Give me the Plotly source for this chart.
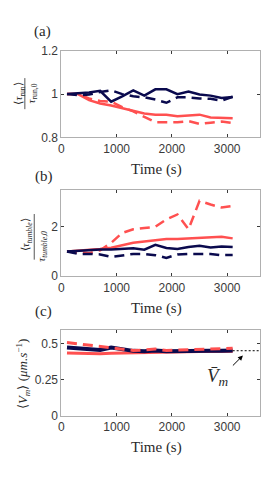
import plotly.graph_objects as go

# ---------------- data ----------------
time_s = [100, 300, 500, 700, 900, 1100, 1300, 1500, 1700, 1900, 2100, 2300, 2500, 2700, 2900, 3100]

run_navy_solid = [1.0, 1.003, 1.008, 1.015, 0.965, 0.99, 1.017, 0.993, 1.022, 1.022, 1.0, 1.012, 0.998, 0.993, 0.982, 0.987]
run_navy_dash = [1.0, 0.995, 0.998, 1.01, 1.018, 1.0, 0.99, 0.985, 0.975, 0.96, 0.985, 0.985, 0.98, 0.978, 0.97, 0.988]
run_red_solid = [1.0, 1.0, 0.972, 0.957, 0.947, 0.935, 0.922, 0.91, 0.905, 0.905, 0.898, 0.9, 0.905, 0.892, 0.89, 0.888]
run_red_dash = [1.0, 1.0, 0.98, 0.968, 0.965, 0.94, 0.92, 0.895, 0.87, 0.87, 0.87, 0.875, 0.862, 0.868, 0.873, 0.866]

tum_navy_solid = [1.0, 1.03, 1.06, 1.08, 1.08, 1.1, 1.13, 1.07, 1.27, 1.14, 1.1, 1.18, 1.23, 1.16, 1.2, 1.18]
tum_navy_dash = [1.0, 0.9, 0.9, 0.88, 0.78, 0.85, 0.9, 0.9, 0.85, 0.74, 0.88, 0.9, 0.9, 0.9, 0.85, 0.86]
tum_red_solid = [1.0, 1.03, 1.05, 1.1, 1.15, 1.25, 1.35, 1.4, 1.46, 1.5, 1.5, 1.52, 1.53, 1.57, 1.6, 1.53]
tum_red_dash = [1.0, 0.95, 0.93, 1.05, 1.35, 1.75, 1.9, 1.95, 2.0, 2.3, 2.5, 1.9, 3.05, 2.9, 2.78, 2.84]

vm_navy_solid = [0.475, 0.47, 0.462, 0.458, 0.475, 0.462, 0.452, 0.45, 0.455, 0.45, 0.452, 0.452, 0.455, 0.453, 0.453, 0.455]
vm_red_dash = [0.51, 0.5, 0.49, 0.48, 0.47, 0.462, 0.455, 0.458, 0.465, 0.455, 0.458, 0.46, 0.46, 0.462, 0.465, 0.47]
vm_red_solid = [0.437, 0.435, 0.43, 0.432, 0.435, 0.437, 0.44, 0.442, 0.443, 0.445, 0.445, 0.447, 0.448, 0.448, 0.45, 0.45]

vm_mean = 0.453
vm_mean_x = [3100, 3600]

x_ticks = [0, 1000, 2000, 3000]
y_ticks_a = [0.8, 1, 1.2]
y_ticks_b = [0, 2]
y_ticks_c = [0, 0.25, 0.5]

# ---------------- style ----------------
NAVY = "#0a0a4e"
RED = "#ff5050"
DASH = "10px,6px"
W = 279
H = 480

def px_y(top, bottom):
    return [1 - bottom / H, 1 - top / H]

xdom = [51 / W, 252 / W]
dom_a = px_y(37, 126)
dom_b = px_y(180, 269)
dom_c = px_y(324, 413)

fig = go.Figure()

def add(x, y, color, dash, xa, ya, width=2.5):
    fig.add_trace(go.Scatter(x=x, y=y, mode="lines", xaxis=xa, yaxis=ya,
                             line=dict(color=color, width=width, dash=dash),
                             showlegend=False, hoverinfo="skip"))

# panel a
add(time_s, run_red_dash, RED, DASH, "x", "y")
add(time_s, run_red_solid, RED, "solid", "x", "y")
add(time_s, run_navy_dash, NAVY, DASH, "x", "y")
add(time_s, run_navy_solid, NAVY, "solid", "x", "y")
# panel b
add(time_s, tum_red_dash, RED, DASH, "x2", "y2")
add(time_s, tum_red_solid, RED, "solid", "x2", "y2")
add(time_s, tum_navy_dash, NAVY, DASH, "x2", "y2")
add(time_s, tum_navy_solid, NAVY, "solid", "x2", "y2")
# panel c
add(time_s, vm_red_solid, RED, "solid", "x3", "y3", 3)
add(time_s, vm_navy_solid, NAVY, "solid", "x3", "y3", 4)
add(time_s, vm_red_dash, RED, DASH, "x3", "y3", 3)
fig.add_trace(go.Scatter(x=vm_mean_x, y=[vm_mean, vm_mean], mode="lines", xaxis="x3", yaxis="y3",
                         line=dict(color="black", width=1, dash="2px,2px"),
                         showlegend=False, hoverinfo="skip"))

tickfont = dict(family="Liberation Sans", size=12, color="#3a3a3a")
common_x = dict(range=[0, 3600], tickvals=x_ticks, ticks="inside", ticklen=3,
                tickcolor="#3a3a3a", showline=True, linecolor="#b0b0b0", linewidth=1,
                mirror="ticks", showgrid=False, zeroline=False, tickfont=tickfont,
                domain=xdom)
common_y = dict(ticks="inside", ticklen=3, tickcolor="#3a3a3a", showline=True,
                linecolor="#b0b0b0", linewidth=1, mirror="ticks", showgrid=False,
                zeroline=False, tickfont=tickfont)

fig.update_layout(
    width=W, height=H,
    margin=dict(l=0, r=0, t=0, b=0),
    paper_bgcolor="white", plot_bgcolor="white",
    font=dict(family="Liberation Serif"),
    xaxis=dict(common_x, anchor="y"),
    xaxis2=dict(common_x, anchor="y2"),
    xaxis3=dict(common_x, anchor="y3"),
    yaxis=dict(common_y, range=[0.8, 1.2], tickvals=y_ticks_a, ticktext=["0.8", "1", "1.2"],
               domain=dom_a, anchor="x"),
    yaxis2=dict(common_y, range=[0, 3.5], tickvals=y_ticks_b, domain=dom_b, anchor="x2"),
    yaxis3=dict(common_y, range=[0, 0.6], tickvals=y_ticks_c, ticktext=["0", "0.25", "0.5"],
                domain=dom_c, anchor="x3"),
)

serif = "Liberation Serif"
TXT = "#2a2a2a"
ann = []

def paper_text(text, xpx, ypx, size=15, angle=0):
    ann.append(dict(text=text, x=xpx / W, y=1 - ypx / H, xref="paper", yref="paper",
                    showarrow=False, textangle=angle, xanchor="center", yanchor="middle",
                    font=dict(family=serif, size=size, color=TXT)))

paper_text("(a)", 32, 17)
paper_text("(b)", 33, 166)
paper_text("(c)", 33, 305)
paper_text("Time (s)", 147, 159)
paper_text("Time (s)", 147, 302)
paper_text("Time (s)", 147, 446)

# y-axis titles (fractions)
paper_text("⟨<i>τ</i><sub>run</sub>⟩", 8, 81, size=11, angle=-90)
paper_text("<i>τ</i><sub>run,0</sub>", 21, 81, size=11, angle=-90)
paper_text("⟨<i>τ<sub>tumble</sub></i>⟩", 16, 226, size=11, angle=-90)
paper_text("<i>τ<sub>tumble,0</sub></i>", 31, 238, size=11, angle=-90)
paper_text("⟨<i>V<sub>m</sub></i>⟩ (<i>μm.s</i><sup>−1</sup>)", 12, 370, size=13, angle=-90)

# fraction bars
fig.add_shape(type="line", xref="paper", yref="paper", x0=14 / W, x1=14 / W,
              y0=1 - 65 / H, y1=1 - 97 / H, line=dict(color=TXT, width=0.8))
fig.add_shape(type="line", xref="paper", yref="paper", x0=23.5 / W, x1=23.5 / W,
              y0=1 - 205 / H, y1=1 - 252 / H, line=dict(color=TXT, width=0.8))

# V_m mean annotation
ann.append(dict(text="", x=3286, y=0.42, ax=3077, ay=0.34, xref="x3", yref="y3",
                axref="x3", ayref="y3", showarrow=True, arrowhead=2, arrowsize=1,
                arrowwidth=1, arrowcolor="black"))
ann.append(dict(text="<i>V̄<sub>m</sub></i>", x=2830, y=0.27, xref="x3", yref="y3",
                showarrow=False, font=dict(family=serif, size=19, color=TXT)))

fig.update_layout(annotations=ann)

fig.write_html("out.html")
